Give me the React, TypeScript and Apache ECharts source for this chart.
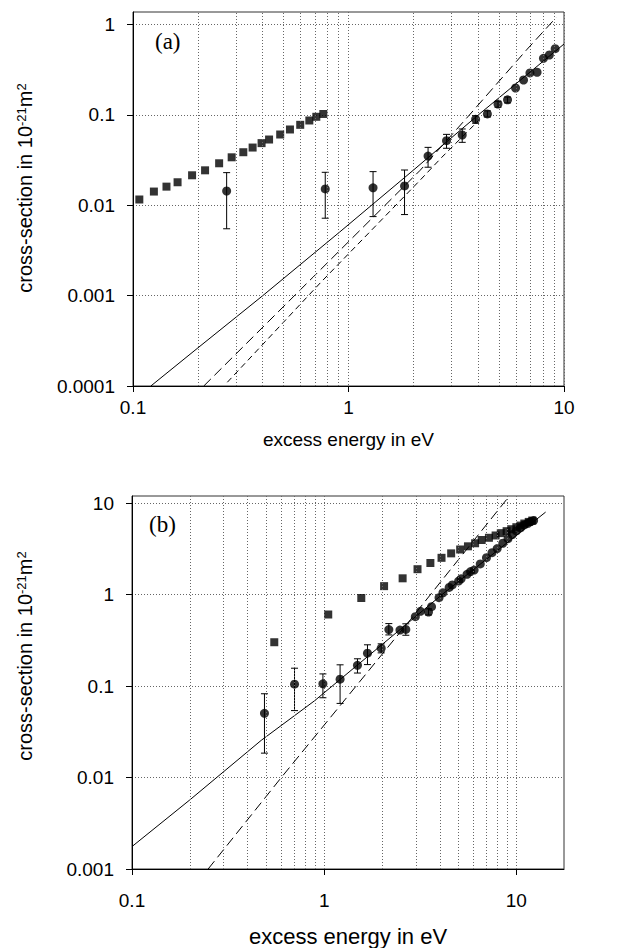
import React, { useEffect, useRef } from "react";
import * as echarts from "echarts";

// ---------- Panel (a) data ----------
const aSquares: number[][] = [
  [0.107, 0.0116], [0.125, 0.0142], [0.143, 0.0161], [0.161, 0.018], [0.188, 0.0215],
  [0.216, 0.0244], [0.251, 0.0292], [0.287, 0.034], [0.325, 0.0387], [0.359, 0.0436],
  [0.395, 0.0488], [0.428, 0.0535], [0.482, 0.0608], [0.535, 0.0691], [0.597, 0.0778],
  [0.658, 0.0869], [0.709, 0.0955], [0.764, 0.1026],
];
const aCircles: number[][] = [
  [0.272, 0.0144], [0.78, 0.0152], [1.3, 0.0156], [1.82, 0.0164], [2.34, 0.0351],
  [2.85, 0.052], [3.37, 0.06], [3.89, 0.0895], [4.41, 0.1026], [4.94, 0.132],
  [5.47, 0.147], [5.96, 0.199], [6.49, 0.244], [6.95, 0.292], [7.5, 0.297],
  [8.03, 0.424], [8.55, 0.461], [9.1, 0.542],
];
const aErrors: number[][] = [
  [0.272, 0.0055, 0.023], [0.78, 0.0072, 0.0232], [1.3, 0.0075, 0.0236],
  [1.82, 0.0079, 0.0246], [2.34, 0.0264, 0.0438], [2.85, 0.0428, 0.061],
  [3.37, 0.0498, 0.07], [3.89, 0.081, 0.098], [4.41, 0.095, 0.111],
  [4.94, 0.122, 0.142], [5.47, 0.136, 0.158],
];
const aFitSolid: number[][] = [
  [0.121, 1.0e-4], [0.2, 2.64e-4], [0.4, 1.0e-3], [0.909, 5.05e-3], [2, 0.0245], [4, 0.1], [10, 0.61],
];
const aFitDashLong: number[][] = [
  [0.213, 1e-4], [0.684, 1.6e-3], [2.15, 0.0244], [3.64, 0.1], [6.7, 0.525], [9.2, 1.2],
];
const aFitDashShort: number[][] = [
  [0.274, 1.1e-4], [0.743, 1.4e-3], [2.15, 0.019], [2.71, 0.034], [4.0, 0.086],
];

// ---------- Panel (b) data ----------
const bSquares: number[][] = [
  [0.55, 0.302], [1.05, 0.607], [1.56, 0.92], [2.05, 1.24], [2.56, 1.51], [3.06, 1.9],
  [3.57, 2.22], [4.08, 2.53], [4.58, 2.83], [5.1, 3.12], [5.6, 3.38], [6.1, 3.65],
  [6.6, 3.96], [7.2, 4.19], [7.8, 4.44], [8.3, 4.71], [8.9, 4.95], [9.4, 5.2],
  [10.0, 5.47], [10.5, 5.7], [11.0, 6.0], [11.6, 6.25], [12.1, 6.47],
];
const bCircles: number[][] = [
  [0.489, 0.0504], [0.701, 0.105], [0.985, 0.106], [1.21, 0.119], [1.49, 0.169],
  [1.68, 0.229], [1.98, 0.26], [2.17, 0.415], [2.48, 0.41], [2.66, 0.417],
  [2.98, 0.574], [3.17, 0.657], [3.49, 0.646], [3.62, 0.739], [3.96, 0.927],
  [4.15, 1.05], [4.47, 1.2], [4.64, 1.28], [5.01, 1.41], [5.16, 1.49], [5.54, 1.67],
  [5.78, 1.79], [6.03, 1.86], [6.49, 2.17], [6.99, 2.54], [7.47, 2.88], [7.95, 3.19],
  [8.5, 3.65], [9.05, 4.1], [9.53, 4.54], [10.0, 4.98], [10.5, 5.37], [11.0, 5.79],
  [11.5, 6.04], [11.9, 6.3], [12.3, 6.46],
];
const bErrors: number[][] = [
  [0.489, 0.0185, 0.0825], [0.701, 0.054, 0.157], [0.985, 0.0746, 0.136],
  [1.21, 0.0647, 0.171], [1.49, 0.139, 0.199], [1.68, 0.172, 0.283],
  [1.98, 0.231, 0.29], [2.17, 0.363, 0.483], [2.66, 0.36, 0.48], [3.49, 0.6, 0.7],
];
const bFitSolid: number[][] = [
  [0.1, 0.00176], [0.2, 0.0057], [0.47, 0.0255], [0.89, 0.069], [4.1, 1.0], [14.2, 8.0],
];
const bFitDash: number[][] = [
  [0.249, 0.001], [0.598, 0.01], [2.81, 0.533], [9.2, 12],
];

// ---------- axes ----------
const aXRange = [0.1, 10];
const aYRange = [0.0001, 1.38];
const bXRange = [0.1, 17.7];
const bYRange = [0.001, 12];
const aYTicks = [0.0001, 0.001, 0.01, 0.1, 1];
const bYTicks = [0.001, 0.01, 0.1, 1, 10];
const aXTicks = [0.1, 1, 10];
const bXTicks = [0.1, 1, 10];
const minorGrid = [0.2, 0.3, 0.4, 0.5, 0.6, 0.7, 0.8, 0.9, 2, 3, 4, 5, 6, 7, 8, 9];

const xTitle = "excess energy in eV";
const yTitle = "cross-section in 10{sup|-21}m{sup|2}";

const SANS = "'Liberation Sans', Arial, Helvetica, sans-serif";
const SERIF = "'Liberation Serif', 'Times New Roman', serif";

function fmt(v: number): string {
  const l = Math.log10(v);
  const e = Math.round(l);
  if (Math.abs(l - e) > 1e-6) return "";
  return e < 0 ? Math.pow(10, e).toFixed(-e) : String(Math.pow(10, e));
}

const gridDot = { color: "#666", width: 1, type: [1, 2] as number[] };

function xAxisOf(gridIndex: number, range: number[], ticks: number[], labelMargin: number, nameGap: number, nameSize: number) {
  return {
    type: "log",
    logBase: 10,
    gridIndex,
    min: range[0],
    max: range[1],
    axisLine: { show: true, onZero: false, lineStyle: { color: "#000", width: 1 } },
    axisTick: { show: true, inside: false, length: 6, lineStyle: { color: "#000" }, customValues: ticks },
    axisLabel: { show: true, color: "#000", fontSize: 19, fontFamily: SANS, margin: labelMargin, formatter: fmt, customValues: ticks },
    splitLine: { show: true, lineStyle: gridDot },
    minorTick: { show: false },
    name: xTitle,
    nameLocation: "middle",
    nameGap,
    nameTextStyle: { color: "#000", fontSize: nameSize, fontFamily: SANS },
  };
}

function yAxisOf(gridIndex: number, range: number[], ticks: number[]) {
  return {
    type: "log",
    logBase: 10,
    gridIndex,
    min: range[0],
    max: range[1],
    axisLine: { show: true, onZero: false, lineStyle: { color: "#000", width: 1 } },
    axisTick: { show: true, inside: false, length: 6, lineStyle: { color: "#000" }, customValues: ticks },
    axisLabel: { show: true, color: "#000", fontSize: 19, fontFamily: SANS, margin: 18, formatter: fmt, customValues: ticks },
    splitLine: { show: true, lineStyle: gridDot },
  };
}

function errorSeries(idx: number, data: number[][]) {
  return {
    type: "custom",
    xAxisIndex: idx,
    yAxisIndex: idx,
    data,
    encode: { x: 0, y: [1, 2] },
    silent: true,
    z: 3,
    renderItem: (_params: any, api: any) => {
      const x = api.value(0);
      const p1 = api.coord([x, api.value(1)]);
      const p2 = api.coord([x, api.value(2)]);
      const w = 3.5;
      const style = { stroke: "#000", lineWidth: 1, fill: "none" };
      return {
        type: "group",
        children: [
          { type: "line", shape: { x1: p1[0], y1: p1[1], x2: p2[0], y2: p2[1] }, style },
          { type: "line", shape: { x1: p1[0] - w, y1: p1[1], x2: p1[0] + w, y2: p1[1] }, style },
          { type: "line", shape: { x1: p2[0] - w, y1: p2[1], x2: p2[0] + w, y2: p2[1] }, style },
        ],
      };
    },
  };
}

function lineSeries(idx: number, data: number[][], type: any, withGrid: boolean) {
  const s: any = {
    type: "line",
    xAxisIndex: idx,
    yAxisIndex: idx,
    data,
    showSymbol: false,
    symbol: "none",
    silent: true,
    z: 2,
    lineStyle: { color: "#000", width: 1, type },
  };
  if (withGrid) {
    s.markLine = {
      silent: true,
      symbol: ["none", "none"],
      label: { show: false },
      lineStyle: { color: "#666", width: 1, type: [1, 2] },
      data: minorGrid.map((v) => ({ xAxis: v })),
    };
  }
  return s;
}

function scatter(idx: number, data: number[][], symbol: string, size: number) {
  return {
    type: "scatter",
    xAxisIndex: idx,
    yAxisIndex: idx,
    data,
    symbol,
    symbolSize: size,
    itemStyle: { color: "#000" },
    silent: true,
    z: 4,
  };
}

export default function App() {
  const ref = useRef<HTMLDivElement>(null);
  useEffect(() => {
    if (!ref.current) return;
    const chart = echarts.init(ref.current, undefined, { renderer: "svg" });
    const option: any = {
      animation: false,
      backgroundColor: "#fff",
      grid: [
        { left: 133, top: 12, width: 431, height: 374, show: true, borderColor: "#333", borderWidth: 1, backgroundColor: "transparent" },
        { left: 132, top: 496, width: 432, height: 373, show: true, borderColor: "#333", borderWidth: 1, backgroundColor: "transparent" },
      ],
      xAxis: [
        xAxisOf(0, aXRange, aXTicks, 12, 44, 19),
        xAxisOf(1, bXRange, bXTicks, 22, 56, 22),
      ],
      yAxis: [yAxisOf(0, aYRange, aYTicks), yAxisOf(1, bYRange, bYTicks)],
      graphic: [
        { type: "text", left: 155, top: 30, style: { text: "(a)", font: `23px ${SERIF}`, fill: "#000" } },
        { type: "text", left: 149, top: 513, style: { text: "(b)", font: `23px ${SERIF}`, fill: "#000" } },
        {
          type: "text", x: 25, y: 188, rotation: Math.PI / 2,
          style: {
            text: yTitle, fontSize: 20, fontFamily: SANS, fill: "#000", align: "center", verticalAlign: "middle",
            rich: { sup: { fontSize: 13, fontFamily: SANS, verticalAlign: "top", fill: "#000" } },
          },
        },
        {
          type: "text", x: 25, y: 656, rotation: Math.PI / 2,
          style: {
            text: yTitle, fontSize: 20, fontFamily: SANS, fill: "#000", align: "center", verticalAlign: "middle",
            rich: { sup: { fontSize: 13, fontFamily: SANS, verticalAlign: "top", fill: "#000" } },
          },
        },
      ],
      series: [
        lineSeries(0, aFitSolid, "solid", true),
        lineSeries(0, aFitDashLong, [10, 5], false),
        lineSeries(0, aFitDashShort, [6, 4], false),
        errorSeries(0, aErrors),
        scatter(0, aSquares, "rect", 8),
        scatter(0, aCircles, "circle", 9),
        lineSeries(1, bFitSolid, "solid", true),
        lineSeries(1, bFitDash, [10, 5], false),
        errorSeries(1, bErrors),
        scatter(1, bSquares, "rect", 8),
        scatter(1, bCircles, "circle", 9),
      ],
    };
    chart.setOption(option);
    return () => chart.dispose();
  }, []);
  return <div ref={ref} style={{ position: "absolute", left: 0, top: 0, width: 626, height: 948 }} />;
}
